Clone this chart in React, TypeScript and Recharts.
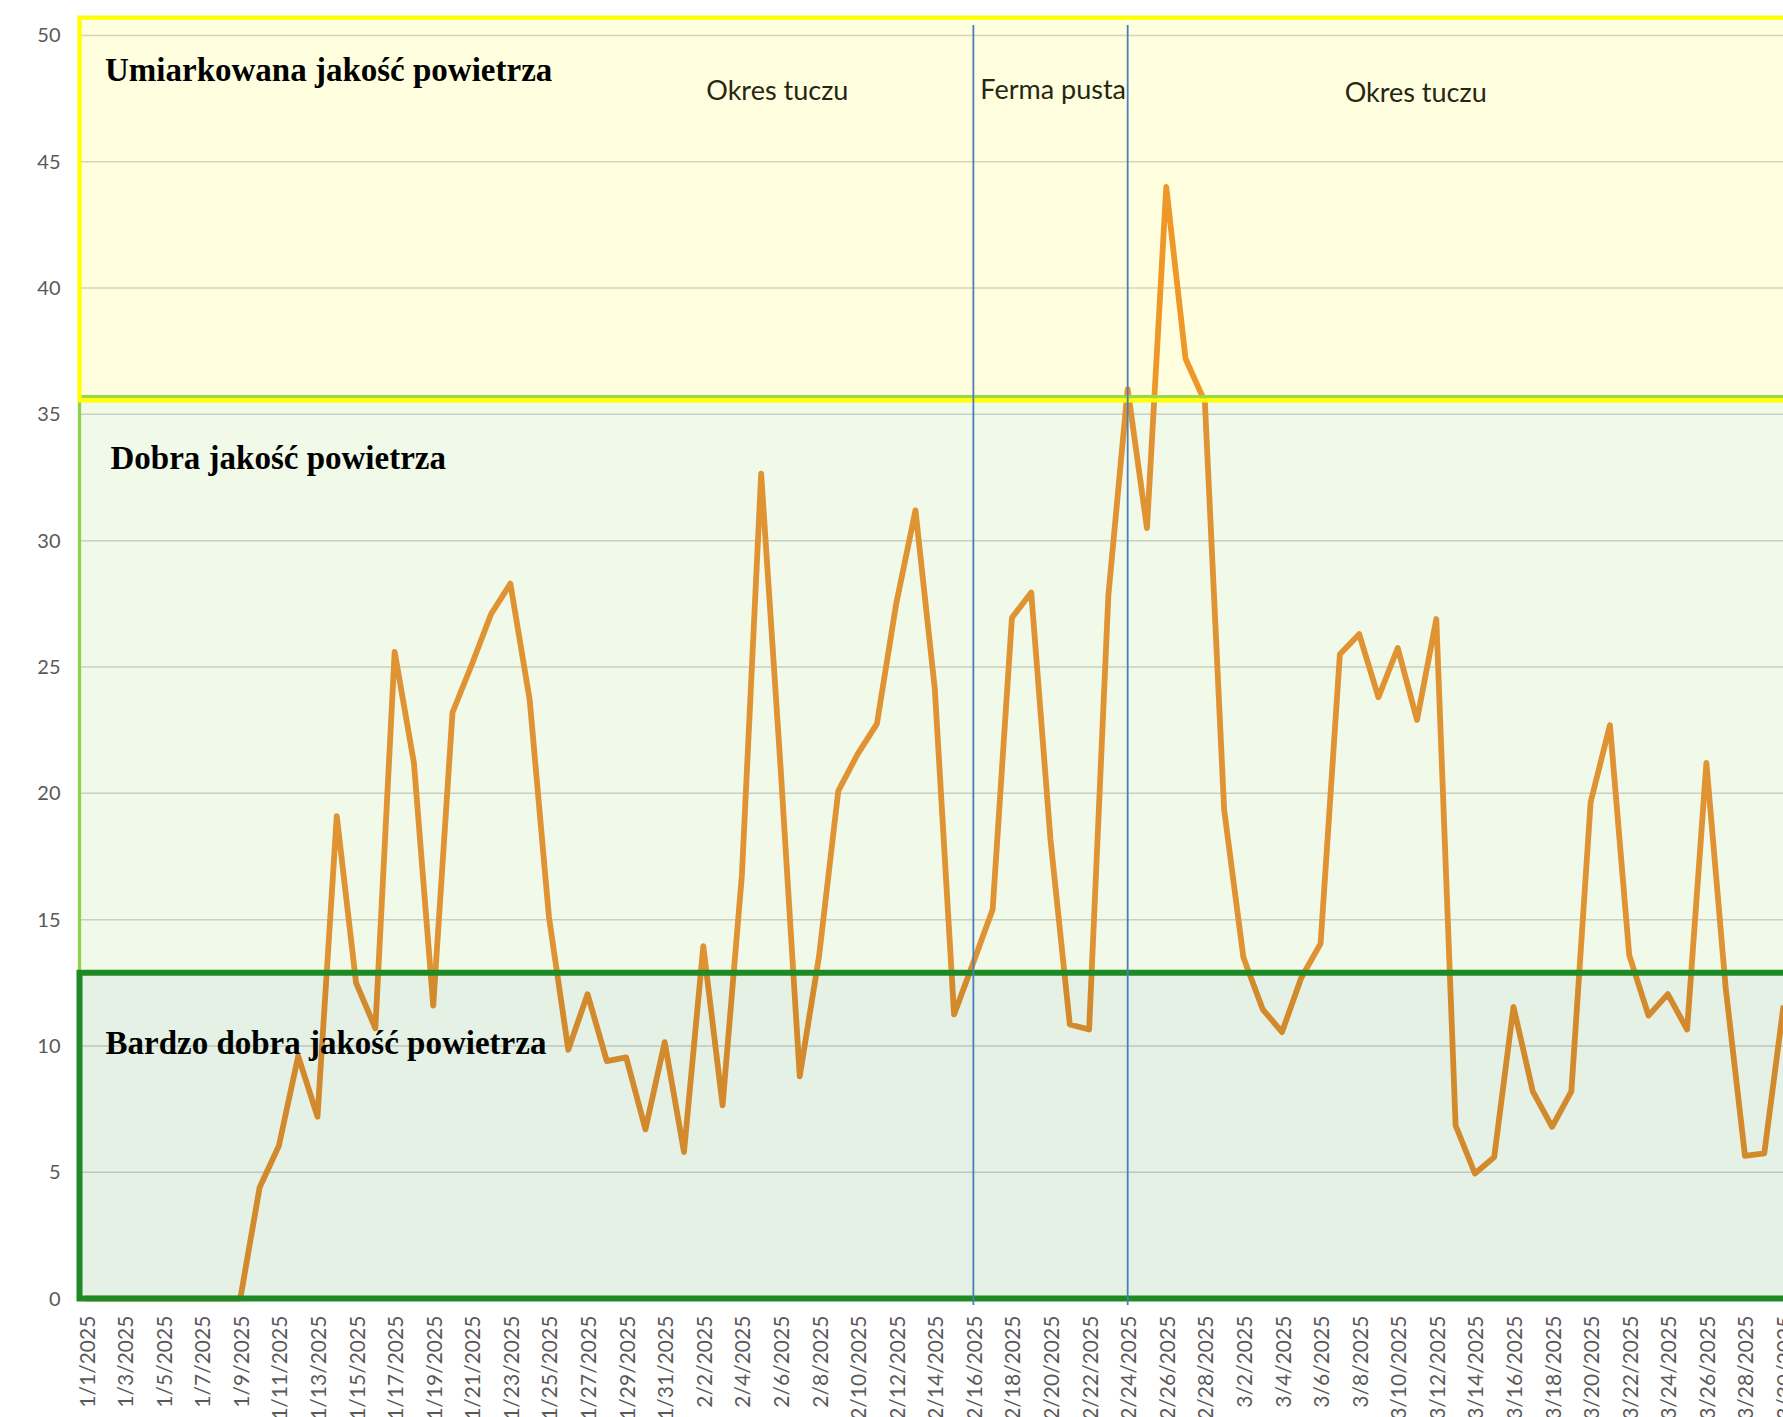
import { CartesianGrid, Line, LineChart, ReferenceArea, ReferenceLine, XAxis, YAxis } from 'recharts'

// daily labels 1/1/2025 .. 3/30/2025
const months: [number, number][] = [
  [1, 31],
  [2, 28],
  [3, 30],
]
const dates = months.flatMap(([m, n]) => Array.from({ length: n }, (_, d) => `${m}/${d + 1}/2025`))

const pm = [
  0, 0, 0, 0, 0, 0, 0, 0, 0, 4.4, 6.05, 9.6, 7.2, 19.1, 12.5, 10.7, 25.6, 21.2, 11.6, 23.2, 25.1, 27.1,
  28.3, 23.7, 15.1, 9.85, 12.05, 9.4, 9.55, 6.7, 10.15, 5.8, 13.95, 7.65, 16.75, 32.65, 21.1, 8.8, 13.55,
  20.1, 21.55, 22.75, 27.5, 31.2, 24.15, 11.25, 13.3, 15.4, 26.95, 27.95, 18.15, 10.85, 10.65, 27.85, 36.0,
  30.5, 44.0, 37.2, 35.5, 19.35, 13.5, 11.45, 10.55, 12.7, 14.05, 25.5, 26.3, 23.8, 25.75, 22.9, 26.9,
  6.85, 4.95, 5.6, 11.55, 8.2, 6.8, 8.2, 19.65, 22.7, 13.6, 11.2, 12.05, 10.65, 21.2, 12.3, 5.65, 5.75,
  11.6,
]

const yTicks = [0, 5, 10, 15, 20, 25, 30, 35, 40, 45, 50]
// every second day gets a label
const xTicks = dates.map((_, i) => i).filter((i) => i % 2 === 0)

// quality bands (y ranges)
const veryGood = [0, 12.9]
const good = [12.9, 35.7]
const moderate = [35.55, 50.7]

const emptyStart = dates.indexOf('2/16/2025')
const emptyEnd = dates.indexOf('2/24/2025')

const rows = dates.map((date, i) => ({ i, date, pm: pm[i] }))

const bandText = { fontFamily: 'Liberation Serif', fontWeight: 700, fontSize: 33, fill: '#000' }
const periodText = { fontFamily: 'Lato', fontSize: 27, fill: '#262612' }

function DateTick({ x, y, payload }: any) {
  return (
    <text
      transform={`translate(${x},${y}) rotate(-90)`}
      textAnchor="end"
      dominantBaseline="central"
      fontFamily="Lato"
      fontSize={21}
      fill="#595959"
    >
      {dates[payload.value]}
    </text>
  )
}

const bandLabel = (text: string, dx: number, dy: number) => (p: any) => (
  <text x={p.viewBox.x + dx} y={p.viewBox.y + dy} {...bandText}>
    {text}
  </text>
)

export default function App() {
  return (
    <div
      style={{
        position: 'absolute',
        left: 0,
        top: 0,
        width: 1783,
        height: 1417,
        overflow: 'hidden',
        background: '#fff',
      }}
    >
      <LineChart width={1804} height={1417} data={rows} margin={{ top: 17.7, right: 0, bottom: 0, left: 0 }}>
        <CartesianGrid vertical={false} stroke="#d0d0d0" strokeWidth={1.5} />
        <XAxis
          dataKey="i"
          type="number"
          domain={[-0.337, 89.06]}
          allowDataOverflow
          ticks={xTicks}
          interval={0}
          height={118.4}
          tickSize={0}
          tickMargin={17}
          axisLine={false}
          tickLine={false}
          tick={<DateTick />}
        />
        <YAxis
          type="number"
          domain={[0, 50.7]}
          ticks={yTicks}
          width={79.5}
          tickSize={0}
          tickMargin={19}
          axisLine={false}
          tickLine={false}
          tick={{ fontFamily: 'Lato', fontSize: 20, fill: '#595959' }}
        />
        <Line
          dataKey="pm"
          stroke="#ec8a2f"
          strokeWidth={5.8}
          strokeLinejoin="round"
          dot={false}
          isAnimationActive={false}
        />
        <ReferenceArea
          y1={good[0]}
          y2={good[1]}
          fill="#92d050"
          fillOpacity={0.13}
          stroke="#92d050"
          strokeWidth={3.3}
          zIndex={500}
          label={bandLabel('Dobra jakość powietrza', 31, 72)}
        />
        <ReferenceArea
          y1={veryGood[0]}
          y2={veryGood[1]}
          fill="#228b22"
          fillOpacity={0.12}
          stroke="#1f8a23"
          strokeWidth={6}
          zIndex={510}
          label={bandLabel('Bardzo dobra jakość powietrza', 26, 81.5)}
        />
        <ReferenceArea
          y1={moderate[0]}
          y2={moderate[1]}
          fill="#ffff00"
          fillOpacity={0.125}
          stroke="#ffff00"
          strokeWidth={4.2}
          zIndex={520}
          label={bandLabel('Umiarkowana jakość powietrza', 25.5, 63.5)}
        />
        <ReferenceLine
          segment={[
            { x: emptyStart, y: 50.41 },
            { x: emptyStart, y: -0.25 },
          ]}
          stroke="#4a7ebb"
          strokeWidth={1.8}
          ifOverflow="visible"
          zIndex={600}
          label={(p: any) => (
            <g>
              <text x={p.viewBox.x - 196} y={100} textAnchor="middle" {...periodText}>
                Okres tuczu
              </text>
              <text x={p.viewBox.x + 7} y={98.5} {...periodText}>
                Ferma pusta
              </text>
            </g>
          )}
        />
        <ReferenceLine
          segment={[
            { x: emptyEnd, y: 50.41 },
            { x: emptyEnd, y: -0.25 },
          ]}
          stroke="#4a7ebb"
          strokeWidth={1.8}
          ifOverflow="visible"
          zIndex={600}
          label={(p: any) => (
            <text x={p.viewBox.x + 288} y={101.5} textAnchor="middle" {...periodText}>
              Okres tuczu
            </text>
          )}
        />
      </LineChart>
    </div>
  )
}
